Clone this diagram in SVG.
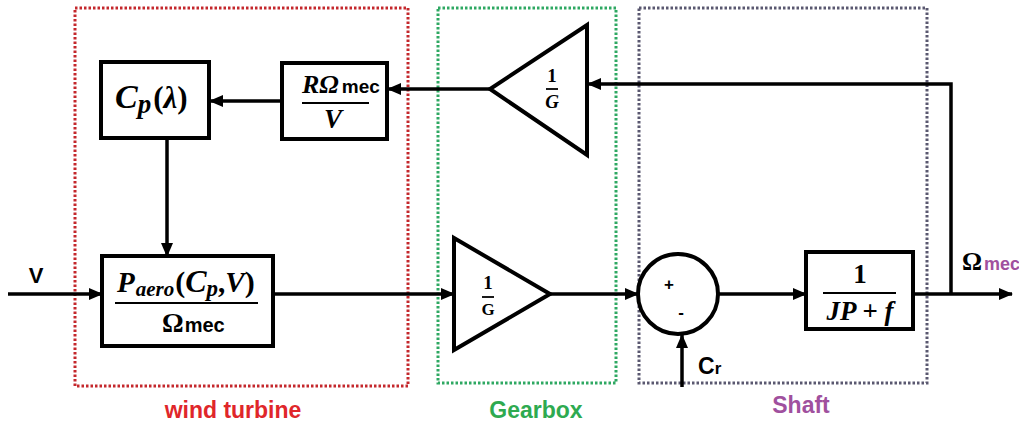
<svg xmlns="http://www.w3.org/2000/svg" width="1019" height="423" viewBox="0 0 1019 423">
<style>
.blk{fill:#fff;stroke:#000;stroke-width:4}
.ln{fill:none;stroke:#000;stroke-width:3.5}
.m{font-family:"Liberation Serif",serif;font-weight:bold;font-style:italic;fill:#000}
.mu{font-family:"Liberation Serif",serif;font-weight:bold;fill:#000}
.s{font-family:"Liberation Sans",Arial,sans-serif;font-weight:bold;fill:#000}
.bar{stroke:#000;stroke-width:1.8}
.zone{fill:none;stroke-width:3;stroke-dasharray:2.5 2}
</style>
<defs>
<marker id="ah" markerUnits="userSpaceOnUse" markerWidth="14" markerHeight="12" refX="13" refY="6" orient="auto">
<path d="M0,0 L14,6 L0,12 Z" fill="#000"/>
</marker>
</defs>
<rect x="0" y="0" width="1019" height="423" fill="#fff"/>

<g id="zones">
<rect class="zone" x="75" y="8" width="333" height="378" stroke="#c4282c"/>
<rect class="zone" x="438" y="8" width="178" height="375" stroke="#2ea862"/>
<rect class="zone" x="639" y="8" width="288" height="375" stroke="#5a5870"/>
<text class="s" x="233" y="418" font-size="23" text-anchor="middle" style="fill:#e0262a">wind turbine</text>
<text class="s" x="536" y="418" font-size="23" text-anchor="middle" style="fill:#2eaa50">Gearbox</text>
<text class="s" x="801" y="413" font-size="23" text-anchor="middle" style="fill:#a0509e">Shaft</text>
</g>

<g id="connectors">
<line class="ln" x1="8" y1="294" x2="102" y2="294" marker-end="url(#ah)"/>
<line class="ln" x1="167" y1="138" x2="167" y2="256" marker-end="url(#ah)"/>
<line class="ln" x1="282" y1="101" x2="210" y2="101" marker-end="url(#ah)"/>
<line class="ln" x1="490" y1="89" x2="388" y2="89" marker-end="url(#ah)"/>
<line class="ln" x1="273" y1="294" x2="454" y2="294" marker-end="url(#ah)"/>
<line class="ln" x1="550" y1="294" x2="638" y2="294" marker-end="url(#ah)"/>
<line class="ln" x1="718" y1="294" x2="806" y2="294" marker-end="url(#ah)"/>
<line class="ln" x1="682" y1="387" x2="682" y2="335" marker-end="url(#ah)"/>
<line class="ln" x1="913" y1="294" x2="1012" y2="294" marker-end="url(#ah)"/>
<polyline class="ln" points="951,294 951,84 588,84" marker-end="url(#ah)"/>
</g>

<g id="input-V">
<text class="s" x="36" y="283" font-size="22" text-anchor="middle">V</text>
</g>

<g id="cp-block">
<rect class="blk" x="101" y="62" width="108" height="76"/>
<text x="115" y="108"><tspan class="m" font-size="34">C</tspan><tspan class="m" font-size="27" dy="5">p</tspan><tspan class="mu" font-size="31" dy="-5" dx="2">(</tspan><tspan class="m" font-size="31">λ</tspan><tspan class="mu" font-size="31">)</tspan></text>
</g>

<g id="lambda-block">
<rect class="blk" x="282" y="63" width="105" height="76"/>
<text x="302" y="93"><tspan class="m" font-size="26">RΩ</tspan><tspan class="s" font-size="19" dx="3">mec</tspan></text>
<line class="bar" x1="302" y1="103" x2="369" y2="103"/>
<text class="m" x="333" y="128" font-size="27" text-anchor="middle">V</text>
</g>

<g id="paero-block">
<rect class="blk" x="102" y="256" width="171" height="90"/>
<text x="117" y="292"><tspan class="m" font-size="29">P</tspan><tspan class="m" font-size="21" dy="4" dx="1">aero</tspan><tspan class="mu" font-size="30" dy="-4" dx="1">(</tspan><tspan class="m" font-size="32">C</tspan><tspan class="m" font-size="23" dy="4">p</tspan><tspan class="mu" font-size="29" dy="-4">,</tspan><tspan class="m" font-size="29">V</tspan><tspan class="mu" font-size="30">)</tspan></text>
<line class="bar" x1="115" y1="303" x2="258" y2="303"/>
<text x="162" y="332"><tspan class="mu" font-size="27">Ω</tspan><tspan class="s" font-size="20" dx="1">mec</tspan></text>
</g>

<g id="gain-feedback">
<polygon class="blk" points="587,25 587,155 490,89"/>
<text class="mu" x="552" y="82" font-size="19" text-anchor="middle">1</text>
<line class="bar" x1="546" y1="89" x2="558" y2="89" stroke-width="1.2"/>
<text class="m" x="552" y="108" font-size="19" text-anchor="middle">G</text>
</g>

<g id="gain-forward">
<polygon class="blk" points="454,238 454,350 550,294"/>
<text class="mu" x="488" y="289" font-size="19" text-anchor="middle">1</text>
<line class="bar" x1="482" y1="297" x2="494" y2="297" stroke-width="1.2"/>
<text class="mu" x="488" y="315" font-size="17" text-anchor="middle">G</text>
</g>

<g id="sum">
<circle cx="678" cy="294" r="40" fill="#fff" stroke="#000" stroke-width="4"/>
<text class="s" x="669" y="290" font-size="17" text-anchor="middle" font-weight="normal">+</text>
<text class="s" x="681" y="318" font-size="17" text-anchor="middle">-</text>
<text x="698" y="374"><tspan class="s" font-size="23">C</tspan><tspan class="s" font-size="17">r</tspan></text>
</g>

<g id="shaft-block">
<rect class="blk" x="806" y="252" width="107" height="77"/>
<text class="mu" x="860" y="283" font-size="27" text-anchor="middle">1</text>
<line class="bar" x1="823" y1="293" x2="896" y2="293"/>
<text class="m" x="860" y="320" font-size="27" text-anchor="middle">JP + f</text>
</g>

<g id="output">
<text x="962" y="270"><tspan class="mu" font-size="25">Ω</tspan><tspan class="s" font-size="18" dx="2" style="fill:#a0509e">mec</tspan></text>
</g>
</svg>
